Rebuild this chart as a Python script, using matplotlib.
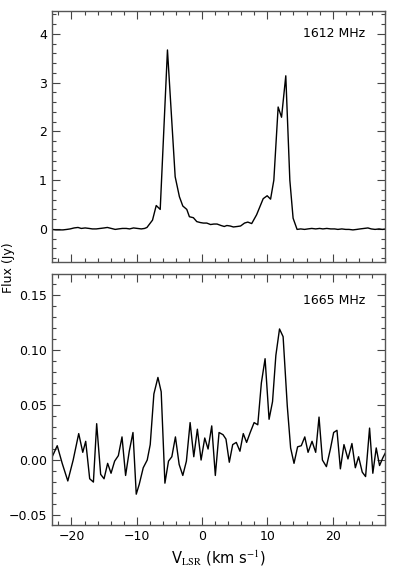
import matplotlib
matplotlib.use('Agg')
import matplotlib.pyplot as plt
from matplotlib.ticker import MultipleLocator

# 1612 MHz spectrum (velocity km/s, flux Jy)
vel_1612 = [-23.0, -22.4, -21.9, -21.3, -20.7, -20.2, -19.6, -19.0, -18.5, -17.9,
            -17.3, -16.8, -16.2, -15.6, -15.0, -14.5, -13.9, -13.3, -12.8, -12.2,
            -11.6, -11.1, -10.5, -9.9, -9.3, -8.8, -8.44, -7.59, -7.02, -6.41,
            -5.30, -4.12, -3.47, -2.95, -2.34, -1.94, -1.33, -0.81, -0.25, 0.20,
            0.72, 1.3, 1.8, 2.3, 2.9, 3.4, 3.8, 4.3, 4.8, 5.4,
            5.9, 6.5, 7.0, 7.6, 8.35, 9.36, 9.97, 10.49, 10.99, 11.65,
            12.17, 12.82, 13.44, 13.94, 14.55, 15.1, 15.7, 16.2, 16.8, 17.4,
            18.0, 18.5, 19.1, 19.7, 20.3, 20.8, 21.4, 22.0, 22.5, 23.1,
            23.7, 24.2, 24.8, 25.4, 25.9, 26.5, 27.1, 27.6, 28.2]
flux_1612 = [-0.01, -0.02, -0.02, -0.02, -0.01, 0.00, 0.02, 0.03, 0.01, 0.02,
             0.01, 0.00, 0.00, 0.01, 0.02, 0.03, 0.01, -0.01, 0.00, 0.01,
             0.01, 0.00, 0.02, 0.01, 0.00, 0.01, 0.03, 0.18, 0.48, 0.40,
             3.67, 1.07, 0.66, 0.47, 0.40, 0.25, 0.23, 0.15, 0.13, 0.12,
             0.12, 0.09, 0.10, 0.10, 0.07, 0.05, 0.07, 0.06, 0.04, 0.05,
             0.06, 0.12, 0.14, 0.11, 0.29, 0.62, 0.68, 0.61, 1.00, 2.50,
             2.29, 3.14, 1.00, 0.22, -0.01, 0.00, -0.01, 0.00, 0.01, 0.00,
             0.01, 0.00, 0.01, 0.00, 0.00, -0.01, 0.00, -0.01, -0.01, -0.02,
             -0.01, 0.00, 0.01, 0.02, 0.00, -0.01, 0.00, -0.01, 0.00]

# 1665 MHz spectrum
vel_1665 = [-22.95, -22.18, -21.42, -20.56, -19.74, -18.89, -18.27, -17.82, -17.21, -16.64,
            -16.14, -15.53, -15.01, -14.46, -13.94, -13.39, -12.82, -12.26, -11.71, -11.15,
            -10.58, -10.08, -9.62, -9.01, -8.40, -7.94, -7.38, -6.76, -6.26, -5.69,
            -5.14, -4.63, -4.08, -3.51, -2.95, -2.40, -1.83, -1.27, -0.72, -0.15,
            0.41, 0.92, 1.48, 2.03, 2.60, 3.21, 3.66, 4.17, 4.69, 5.24,
            5.80, 6.31, 6.82, 7.37, 7.97, 8.53, 9.08, 9.65, 10.26, 10.79,
            11.30, 11.86, 12.41, 13.05, 13.56, 14.08, 14.63, 15.19, 15.73, 16.23,
            16.84, 17.40, 17.91, 18.43, 19.04, 19.65, 20.15, 20.66, 21.18, 21.73,
            22.34, 22.95, 23.47, 23.97, 24.53, 25.04, 25.65, 26.15, 26.67, 27.18,
            27.68, 28.2]
flux_1665 = [0.003, 0.013, -0.003, -0.019, 0.000, 0.024, 0.007, 0.017, -0.017, -0.020,
             0.033, -0.013, -0.017, -0.003, -0.012, -0.001, 0.004, 0.021, -0.014, 0.008,
             0.025, -0.031, -0.022, -0.007, 0.000, 0.014, 0.060, 0.075, 0.062, -0.021,
             -0.001, 0.003, 0.021, -0.004, -0.014, -0.001, 0.034, 0.003, 0.028, 0.000,
             0.020, 0.010, 0.031, -0.014, 0.025, 0.023, 0.019, -0.002, 0.014, 0.016,
             0.008, 0.024, 0.016, 0.025, 0.034, 0.032, 0.070, 0.092, 0.037, 0.053,
             0.095, 0.119, 0.112, 0.049, 0.011, -0.003, 0.012, 0.013, 0.021, 0.007,
             0.017, 0.007, 0.039, 0.000, -0.006, 0.010, 0.025, 0.027, -0.008, 0.014,
             0.001, 0.015, -0.007, 0.003, -0.011, -0.015, 0.029, -0.012, 0.011, -0.005,
             0.002, 0.008]

panel_labels = ['1612 MHz', '1665 MHz']


def style_axis(ax, ymajor, yminor):
    ax.set_xlim(-23, 28)
    ax.xaxis.set_major_locator(MultipleLocator(10))
    ax.xaxis.set_minor_locator(MultipleLocator(2))
    ax.yaxis.set_major_locator(MultipleLocator(ymajor))
    ax.yaxis.set_minor_locator(MultipleLocator(yminor))
    ax.tick_params(which='both', direction='in', top=True, right=True,
                   labelsize=9, width=0.8, color='#444444')
    ax.tick_params(which='major', length=5.5)
    ax.tick_params(which='minor', length=2.8)
    for s in ax.spines.values():
        s.set_linewidth(1.0)
        s.set_color('#555555')


fig = plt.figure(figsize=(3.96, 5.76), dpi=100)
ax1 = fig.add_axes([0.131, 0.545, 0.841, 0.436])
ax2 = fig.add_axes([0.131, 0.0885, 0.841, 0.436])

ax1.plot(vel_1612, flux_1612, color='black', linewidth=1.0)
style_axis(ax1, 1, 0.2)
ax1.set_ylim(-0.68, 4.47)
ax1.set_xticklabels([])
ax1.text(0.94, 0.912, panel_labels[0], transform=ax1.transAxes,
         ha='right', va='center', fontsize=9)

ax2.plot(vel_1665, flux_1665, color='black', linewidth=1.0)
style_axis(ax2, 0.05, 0.01)
ax2.set_ylim(-0.059, 0.169)
ax2.text(0.94, 0.896, panel_labels[1], transform=ax2.transAxes,
         ha='right', va='center', fontsize=9)
ax2.set_xlabel(r'V$_{\mathrm{LSR}}$ (km s$^{-1}$)', fontsize=10.5,
               math_fontfamily='stix')

fig.text(0.022, 0.535, 'Flux (Jy)', rotation=90, ha='center', va='center',
         fontsize=9)

fig.savefig('out.png', dpi=100)
